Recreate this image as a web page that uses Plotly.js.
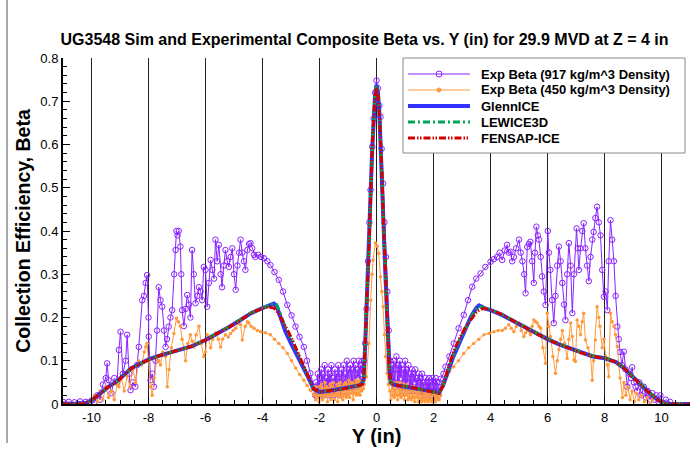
<!DOCTYPE html>
<html>
<head>
<meta charset="utf-8">
<script src="https://cdn.plot.ly/plotly-3.0.1.min.js"></script>
<style>html,body{margin:0;padding:0;background:#fff;}#chart{width:697px;height:451px;}</style>
</head>
<body>
<div id="chart"></div>
<script>
// ---------- Data ----------
// Exp Beta, 917 kg/m^3 density: left shoulder
var e917LeftY = [-11.0,-10.8,-10.6,-10.4,-10.2,-10.0,-9.9,-9.8,-9.7,-9.6,-9.5,-9.45,-9.4,-9.3,-9.2,-9.1,-9.04,-8.98,-8.9,-8.8,-8.75,-8.68,-8.63,-8.55,-8.46,-8.4,-8.34,-8.22,-8.16,-8.1,-8.05,-8.0,-7.99,-7.93,-7.87,-7.81,-7.75,-7.7,-7.64,-7.58,-7.52,-7.46,-7.4,-7.35,-7.29,-7.23,-7.17,-7.1,-7.05,-7.02,-6.98,-6.94,-6.88,-6.85,-6.82,-6.76,-6.7,-6.64,-6.58,-6.53,-6.47,-6.41,-6.35,-6.29,-6.23,-6.17,-6.12,-6.06,-6.0,-5.94,-5.88,-5.82,-5.76,-5.7,-5.65,-5.59,-5.53,-5.47,-5.42,-5.36,-5.3,-5.24,-5.18,-5.12,-5.06,-5.0,-4.94,-4.88,-4.82,-4.77,-4.71,-4.65,-4.6,-4.53,-4.47,-4.42,-4.36,-4.3,-4.25,-4.15,-4.05,-3.95,-3.83,-3.72,-3.58,-3.43,-3.28,-3.13,-2.98,-2.84,-2.7,-2.55,-2.44,-2.32,-2.2,-2.15];
var e917LeftBeta = [0.005,0.005,0.004,0.006,0.005,0.008,0.003,0.02,0.01,0.045,0.06,0.094,0.055,0.025,0.06,0.05,0.125,0.167,0.07,0.10,0.16,0.07,0.032,0.05,0.04,0.09,0.132,0.24,0.25,0.28,0.298,0.2,0.156,0.055,0.07,0.04,0.10,0.17,0.27,0.24,0.225,0.17,0.132,0.15,0.179,0.20,0.217,0.30,0.356,0.40,0.39,0.40,0.364,0.3,0.217,0.18,0.22,0.252,0.23,0.20,0.356,0.3,0.233,0.25,0.27,0.26,0.24,0.317,0.31,0.225,0.28,0.333,0.31,0.29,0.38,0.33,0.368,0.3,0.27,0.32,0.356,0.33,0.317,0.34,0.36,0.3,0.264,0.32,0.35,0.38,0.35,0.33,0.31,0.356,0.37,0.372,0.36,0.345,0.34,0.345,0.34,0.337,0.33,0.321,0.305,0.287,0.26,0.229,0.205,0.179,0.155,0.132,0.10,0.071,0.04,0.02];
// left valley
var e917ValLY = [-2.12,-2.09,-2.06,-2.03,-2.0,-1.97,-1.94,-1.91,-1.88,-1.85,-1.82,-1.79,-1.76,-1.73,-1.7,-1.67,-1.64,-1.61,-1.58,-1.55,-1.52,-1.49,-1.46,-1.43,-1.4,-1.37,-1.34,-1.31,-1.28,-1.25,-1.22,-1.19,-1.16,-1.13,-1.1,-1.07,-1.04,-1.01,-0.98,-0.95,-0.92,-0.89,-0.86,-0.83,-0.8,-0.77,-0.74,-0.71,-0.68,-0.65,-0.62,-0.59,-0.56,-0.53,-0.5,-0.47,-0.44];
var e917ValLBeta = [0.05,0.02,0.07,0.03,0.06,0.02,0.08,0.04,0.07,0.02,0.09,0.03,0.06,0.04,0.08,0.02,0.07,0.05,0.09,0.03,0.06,0.02,0.08,0.04,0.07,0.03,0.09,0.05,0.07,0.02,0.08,0.04,0.09,0.03,0.07,0.05,0.1,0.04,0.08,0.03,0.09,0.05,0.08,0.04,0.1,0.05,0.09,0.04,0.08,0.06,0.1,0.05,0.09,0.07,0.1,0.08,0.1];
// central peak
var e917PeakY = [-0.4,-0.35,-0.3,-0.25,-0.21,-0.15,-0.1,-0.05,0.0,0.05,0.1,0.14,0.18,0.23,0.28,0.33,0.38,0.43,0.48,0.52];
var e917PeakBeta = [0.14,0.22,0.33,0.42,0.495,0.595,0.66,0.72,0.748,0.73,0.69,0.664,0.59,0.51,0.42,0.34,0.26,0.17,0.10,0.06];
// right valley
var e917ValRY = [0.55,0.58,0.61,0.64,0.67,0.7,0.73,0.76,0.79,0.82,0.85,0.88,0.91,0.94,0.97,1.0,1.03,1.06,1.09,1.12,1.15,1.18,1.21,1.24,1.27,1.3,1.33,1.36,1.39,1.42,1.45,1.48,1.51,1.54,1.57,1.6,1.63,1.66,1.69,1.72,1.75,1.78,1.81,1.84,1.87,1.9,1.93,1.96,1.99,2.02,2.05,2.08,2.11,2.14,2.17,2.2,2.25];
var e917ValRBeta = [0.09,0.05,0.1,0.04,0.08,0.11,0.05,0.09,0.04,0.1,0.06,0.09,0.03,0.08,0.05,0.1,0.04,0.08,0.05,0.09,0.03,0.07,0.04,0.08,0.03,0.07,0.05,0.08,0.03,0.06,0.04,0.07,0.03,0.06,0.02,0.07,0.03,0.05,0.02,0.06,0.03,0.05,0.02,0.06,0.03,0.05,0.02,0.06,0.03,0.05,0.02,0.06,0.03,0.05,0.02,0.05,0.058];
// right shoulder
var e917RightY = [2.35,2.42,2.56,2.71,2.88,3.06,3.21,3.36,3.5,3.65,3.82,4.0,4.12,4.23,4.32,4.41,4.5,4.58,4.64,4.7,4.76,4.82,4.9,5.0,5.06,5.12,5.18,5.23,5.29,5.35,5.4,5.46,5.52,5.56,5.61,5.66,5.7,5.76,5.81,5.87,5.93,6.01,6.05,6.1,6.16,6.22,6.28,6.34,6.4,6.46,6.52,6.58,6.63,6.69,6.75,6.81,6.87,6.93,7.02,7.06,7.1,7.16,7.22,7.27,7.33,7.39,7.45,7.51,7.57,7.62,7.68,7.74,7.8,7.86,7.92,7.98,8.04,8.1,8.15,8.21,8.27,8.33,8.39,8.45,8.5,8.55,8.61,8.68,8.74,8.8,8.87,8.93,8.97,9.03,9.09,9.15,9.22,9.3,9.38,9.45,9.52,9.6,9.68,9.75,9.82,9.9,9.96,10.05,10.15,10.3];
var e917RightBeta = [0.07,0.086,0.11,0.14,0.175,0.206,0.24,0.271,0.29,0.302,0.317,0.329,0.335,0.34,0.35,0.333,0.355,0.368,0.35,0.352,0.33,0.34,0.36,0.38,0.35,0.33,0.3,0.256,0.363,0.37,0.375,0.33,0.28,0.35,0.41,0.39,0.38,0.34,0.295,0.26,0.229,0.40,0.35,0.31,0.24,0.187,0.25,0.32,0.364,0.33,0.28,0.23,0.194,0.30,0.372,0.32,0.21,0.30,0.406,0.36,0.31,0.36,0.40,0.418,0.36,0.32,0.284,0.34,0.38,0.398,0.43,0.456,0.42,0.39,0.31,0.248,0.26,0.217,0.33,0.425,0.38,0.33,0.25,0.179,0.15,0.12,0.09,0.121,0.08,0.04,0.07,0.06,0.085,0.05,0.04,0.03,0.05,0.02,0.04,0.015,0.03,0.01,0.025,0.01,0.02,0.005,0.02,0.003,0.01,0.005];

// Exp Beta, 450 kg/m^3 density
var e450LeftY = [-10.3,-10.1,-10.0,-9.9,-9.8,-9.7,-9.6,-9.5,-9.4,-9.3,-9.2,-9.1,-9.04,-8.95,-8.85,-8.75,-8.65,-8.55,-8.45,-8.35,-8.25,-8.15,-8.1,-8.05,-8.0,-7.93,-7.87,-7.8,-7.7,-7.64,-7.58,-7.5,-7.4,-7.34,-7.28,-7.2,-7.11,-7.02,-6.95,-6.88,-6.82,-6.76,-6.7,-6.62,-6.53,-6.47,-6.41,-6.33,-6.23,-6.15,-6.06,-6.0,-5.94,-5.88,-5.82,-5.75,-5.64,-5.55,-5.47,-5.4,-5.3,-5.2,-5.12,-5.03,-4.94,-4.83,-4.77,-4.71,-4.6,-4.53,-4.48,-4.4,-4.3,-4.18,-4.07,-3.9,-3.72,-3.58,-3.43,-3.28,-3.13,-2.98,-2.84,-2.7,-2.55,-2.44,-2.32,-2.2];
var e450LeftBeta = [0.0,0.005,0.01,0.02,0.005,0.03,0.01,0.04,0.015,0.03,0.01,0.045,0.04,0.06,0.03,0.065,0.04,0.08,0.05,0.1,0.09,0.12,0.132,0.14,0.1,0.04,0.02,0.06,0.11,0.1,0.09,0.12,0.11,0.04,0.08,0.13,0.163,0.198,0.19,0.18,0.15,0.13,0.10,0.14,0.16,0.145,0.132,0.16,0.18,0.14,0.11,0.12,0.16,0.15,0.13,0.15,0.164,0.15,0.132,0.15,0.16,0.155,0.163,0.17,0.175,0.187,0.183,0.148,0.18,0.19,0.187,0.18,0.175,0.17,0.167,0.165,0.16,0.15,0.14,0.13,0.117,0.1,0.083,0.068,0.055,0.043,0.032,0.02];
var e450ValLY = [-2.17,-2.14,-2.11,-2.08,-2.05,-2.02,-1.99,-1.96,-1.93,-1.9,-1.87,-1.84,-1.81,-1.78,-1.75,-1.72,-1.69,-1.66,-1.63,-1.6,-1.57,-1.54,-1.51,-1.48,-1.45,-1.42,-1.39,-1.36,-1.33,-1.3,-1.27,-1.24,-1.21,-1.18,-1.15,-1.12,-1.09,-1.06,-1.03,-1.0,-0.97,-0.94,-0.91,-0.88,-0.85,-0.82,-0.79,-0.76,-0.73,-0.7,-0.67,-0.64,-0.61,-0.58,-0.55,-0.52,-0.49,-0.46,-0.43];
var e450ValLBeta = [0.035,0.01,0.04,0.015,0.03,0.005,0.04,0.02,0.045,0.01,0.035,0.015,0.05,0.02,0.04,0.005,0.035,0.02,0.045,0.01,0.04,0.02,0.05,0.01,0.035,0.02,0.045,0.005,0.04,0.02,0.05,0.015,0.04,0.01,0.045,0.02,0.05,0.015,0.045,0.02,0.055,0.015,0.045,0.025,0.05,0.01,0.045,0.025,0.055,0.02,0.05,0.025,0.055,0.02,0.05,0.03,0.055,0.035,0.045];
var e450PeakY = [-0.35,-0.27,-0.21,-0.16,-0.12,-0.04,0.02,0.08,0.14,0.19,0.23,0.28,0.32,0.37,0.42,0.47];
var e450PeakBeta = [0.063,0.14,0.24,0.3,0.333,0.372,0.365,0.348,0.294,0.26,0.225,0.16,0.11,0.071,0.045,0.03];
var e450ValRY = [0.5,0.53,0.56,0.59,0.62,0.65,0.68,0.71,0.74,0.77,0.8,0.83,0.86,0.89,0.92,0.95,0.98,1.01,1.04,1.07,1.1,1.13,1.16,1.19,1.22,1.25,1.28,1.31,1.34,1.37,1.4,1.43,1.46,1.49,1.52,1.55,1.58,1.61,1.64,1.67,1.7,1.73,1.76,1.79,1.82,1.85,1.88,1.91,1.94,1.97,2.0,2.03,2.06,2.09,2.12,2.15,2.2,2.25];
var e450ValRBeta = [0.01,0.045,0.02,0.05,0.015,0.045,0.02,0.05,0.01,0.045,0.02,0.05,0.015,0.04,0.02,0.045,0.01,0.04,0.02,0.045,0.01,0.04,0.015,0.04,0.01,0.035,0.015,0.04,0.005,0.035,0.015,0.035,0.005,0.03,0.01,0.035,0.005,0.03,0.01,0.03,0.005,0.025,0.01,0.03,0.005,0.025,0.01,0.03,0.005,0.025,0.01,0.025,0.005,0.02,0.01,0.025,0.01,0.02];
var e450RightY = [2.33,2.42,2.56,2.71,2.88,3.06,3.23,3.41,3.59,3.77,3.95,4.12,4.27,4.41,4.52,4.64,4.73,4.82,4.91,5.0,5.08,5.17,5.23,5.29,5.35,5.4,5.46,5.52,5.58,5.64,5.7,5.76,5.84,5.93,5.99,6.05,6.1,6.19,6.28,6.34,6.4,6.46,6.52,6.6,6.69,6.75,6.81,6.87,6.93,6.98,7.04,7.1,7.16,7.22,7.27,7.33,7.42,7.51,7.57,7.62,7.68,7.74,7.8,7.84,7.92,7.98,8.04,8.1,8.15,8.21,8.27,8.33,8.39,8.45,8.5,8.55,8.63,8.68,8.75,8.82,8.9,8.97,9.05,9.12,9.2,9.3,9.4,9.5,9.6,9.7];
var e450RightBeta = [0.04,0.063,0.075,0.086,0.1,0.117,0.13,0.14,0.15,0.16,0.163,0.167,0.17,0.17,0.175,0.183,0.175,0.167,0.18,0.187,0.17,0.156,0.165,0.175,0.168,0.16,0.18,0.194,0.19,0.187,0.18,0.175,0.13,0.094,0.21,0.18,0.156,0.11,0.071,0.1,0.126,0.15,0.17,0.14,0.105,0.15,0.187,0.156,0.102,0.098,0.194,0.18,0.16,0.19,0.21,0.148,0.13,0.11,0.055,0.1,0.148,0.225,0.2,0.18,0.13,0.15,0.11,0.09,0.063,0.21,0.19,0.18,0.16,0.133,0.09,0.06,0.015,0.05,0.02,0.04,0.01,0.03,0.005,0.025,0.01,0.02,0.005,0.015,0.0,0.01];

// Simulations (shared Y stations)
var simY = [-11,-10.3,-10.0,-9.7,-9.4,-9.1,-8.8,-8.6,-8.3,-8.0,-7.7,-7.3,-7.0,-6.5,-6.0,-5.5,-5.2,-4.8,-4.4,-4.0,-3.8,-3.6,-3.5,-3.4,-3.2,-3.0,-2.8,-2.6,-2.4,-2.2,-2.0,-1.7,-1.4,-1.1,-0.8,-0.6,-0.5,-0.45,-0.4,-0.35,-0.3,-0.25,-0.2,-0.15,-0.1,-0.05,0,0.05,0.1,0.15,0.2,0.25,0.3,0.35,0.4,0.45,0.5,0.6,0.8,1.1,1.4,1.7,2.0,2.2,2.35,2.5,2.7,2.9,3.1,3.3,3.5,3.6,3.7,3.8,4.0,4.4,4.8,5.2,5.6,6.0,6.4,6.8,7.2,7.6,8.0,8.4,8.7,9.0,9.3,9.6,9.9,10.1,10.3,11];
var glennBeta = [0,0,0.008,0.024,0.04,0.053,0.07,0.083,0.093,0.103,0.11,0.118,0.123,0.133,0.148,0.165,0.177,0.193,0.21,0.222,0.226,0.232,0.226,0.205,0.168,0.14,0.115,0.09,0.062,0.034,0.028,0.03,0.033,0.036,0.04,0.043,0.048,0.06,0.13,0.21,0.3,0.39,0.5,0.59,0.66,0.715,0.738,0.72,0.675,0.6,0.52,0.41,0.32,0.23,0.15,0.08,0.05,0.045,0.042,0.04,0.036,0.032,0.028,0.026,0.045,0.075,0.11,0.14,0.17,0.2,0.222,0.228,0.225,0.221,0.217,0.206,0.192,0.178,0.163,0.15,0.138,0.128,0.118,0.11,0.106,0.097,0.082,0.062,0.042,0.024,0.008,0.002,0,0];
var lewiceBeta = [0,0,0.008,0.025,0.04,0.052,0.07,0.083,0.093,0.102,0.11,0.118,0.123,0.133,0.149,0.166,0.178,0.194,0.211,0.222,0.227,0.233,0.23,0.212,0.178,0.152,0.122,0.093,0.063,0.034,0.028,0.03,0.033,0.036,0.04,0.043,0.047,0.06,0.13,0.21,0.3,0.39,0.5,0.59,0.66,0.715,0.735,0.72,0.675,0.6,0.52,0.41,0.32,0.23,0.15,0.08,0.05,0.045,0.042,0.04,0.036,0.032,0.028,0.025,0.046,0.078,0.115,0.146,0.174,0.198,0.219,0.226,0.223,0.221,0.218,0.207,0.193,0.179,0.164,0.151,0.139,0.129,0.119,0.111,0.107,0.098,0.083,0.063,0.043,0.025,0.009,0.002,0,0];
var fensapBeta = [0,0,0.008,0.025,0.04,0.052,0.07,0.083,0.093,0.102,0.11,0.118,0.123,0.133,0.148,0.165,0.177,0.193,0.21,0.221,0.225,0.222,0.215,0.205,0.18,0.155,0.125,0.095,0.065,0.035,0.028,0.03,0.033,0.036,0.04,0.043,0.045,0.06,0.13,0.21,0.3,0.39,0.5,0.59,0.66,0.712,0.732,0.718,0.672,0.6,0.52,0.41,0.32,0.23,0.15,0.08,0.05,0.045,0.042,0.04,0.036,0.032,0.028,0.025,0.045,0.08,0.12,0.15,0.175,0.195,0.212,0.217,0.22,0.221,0.218,0.207,0.192,0.178,0.163,0.15,0.138,0.128,0.118,0.11,0.106,0.097,0.082,0.062,0.042,0.024,0.008,0.002,0,0];

var xTickVals = [-10,-8,-6,-4,-2,0,2,4,6,8,10];
var xTickText = ['-10','-8','-6','-4','-2','0','2','4','6','8','10'];
var seriesNames = ['Exp Beta (917 kg/m^3 Density)','Exp Beta (450 kg/m^3 Density)','GlennICE','LEWICE3D','FENSAP-ICE'];

var exp917Y = [].concat(e917LeftY, e917ValLY, e917PeakY, e917ValRY, e917RightY);
var exp917Beta = [].concat(e917LeftBeta, e917ValLBeta, e917PeakBeta, e917ValRBeta, e917RightBeta);
var exp450Y = [].concat(e450LeftY, e450ValLY, e450PeakY, e450ValRY, e450RightY);
var exp450Beta = [].concat(e450LeftBeta, e450ValLBeta, e450PeakBeta, e450ValRBeta, e450RightBeta);

// ---------- Styles ----------
var FONT = 'Liberation Sans, Arial, Helvetica, sans-serif';
var styles = [
  {line: {color: '#8b22ff', width: 1}, marker: {symbol: 'circle-open', size: 5.5, color: '#8b22ff', line: {width: 1}}, mode: 'lines+markers'},
  {line: {color: '#ff9a3c', width: 1}, marker: {symbol: 'circle', size: 3.5, color: '#ff9a3c'}, mode: 'lines+markers'},
  {line: {color: '#3333ff', width: 4}, mode: 'lines'},
  {line: {color: '#00a651', width: 3, dash: '7px,3px,2px,3px'}, mode: 'lines'},
  {line: {color: '#d40000', width: 3, dash: '7px,2px,1.5px,1.5px,1.5px,2px'}, mode: 'lines'}
];
var xs = [exp917Y, exp450Y, simY, simY, simY];
var ys = [exp917Beta, exp450Beta, glennBeta, lewiceBeta, fensapBeta];

var traces = xs.map(function (x, i) {
  var t = {x: x, y: ys[i], type: 'scatter', mode: styles[i].mode, name: seriesNames[i], line: styles[i].line, showlegend: false};
  if (styles[i].marker) t.marker = styles[i].marker;
  return t;
});

// ---------- Legend drawn in paper space (placement only) ----------
var PL = 63, PW = 627, PB = 404, PH = 346;
function px2x(p) { return (p - PL) / PW; }
function py2y(p) { return (PB - p) / PH; }
var shapes = [
  {type: 'line', xref: 'paper', yref: 'paper', x0: px2x(7), x1: px2x(7), y0: py2y(443), y1: py2y(0),
   line: {color: '#555', width: 1}},
  {type: 'rect', xref: 'paper', yref: 'paper', x0: px2x(403), x1: px2x(685), y0: py2y(153), y1: py2y(58),
   line: {color: '#888', width: 1}, fillcolor: '#ffffff', layer: 'above'}
];
var annotations = [];
var rowY = [74, 90, 106, 122, 138];
seriesNames.forEach(function (nm, i) {
  var yy = py2y(rowY[i]);
  var ln = {type: 'line', xref: 'paper', yref: 'paper', x0: px2x(408), x1: px2x(470), y0: yy, y1: yy,
            line: {color: styles[i].line.color, width: styles[i].line.width}, layer: 'above'};
  if (styles[i].line.dash) ln.line.dash = styles[i].line.dash;
  shapes.push(ln);
  if (styles[i].marker) {
    var r = i === 0 ? 3 : 2;
    shapes.push({type: 'circle', xref: 'paper', yref: 'paper', xsizemode: 'pixel', ysizemode: 'pixel',
      xanchor: px2x(439), yanchor: yy, x0: -r, x1: r, y0: -r, y1: r, layer: 'above',
      line: {color: styles[i].line.color, width: 1}, fillcolor: i === 0 ? 'rgba(0,0,0,0)' : styles[i].line.color});
  }
  annotations.push({xref: 'paper', yref: 'paper', x: px2x(479), y: yy, xanchor: 'left', yanchor: 'middle',
    text: '<b>' + nm + '</b>', showarrow: false, font: {size: 13, family: FONT, color: '#000'}});
});

var layout = {
  width: 697, height: 451,
  margin: {l: 63, r: 7, t: 58, b: 47},
  paper_bgcolor: '#ffffff', plot_bgcolor: '#ffffff',
  font: {family: FONT, color: '#000'},
  showlegend: false,
  title: {text: '<b>UG3548 Sim and Experimental Composite Beta vs. Y (in) for 29.9 MVD at Z = 4 in</b>',
          font: {size: 16, family: FONT, color: '#000'}, x: 0.523, xanchor: 'center', xref: 'container',
          y: 0.912, yanchor: 'middle', yref: 'container'},
  xaxis: {
    range: [-11, 11], tickmode: 'array', tickvals: xTickVals, ticktext: xTickText,
    ticks: 'inside', ticklen: 7, tickwidth: 1, tickcolor: '#000',
    minor: {dtick: 0.5, tick0: 0, ticks: 'inside', ticklen: 4, tickcolor: '#000', showgrid: false},
    showgrid: true, gridcolor: '#222', gridwidth: 1, zeroline: false,
    showline: true, linecolor: '#000', linewidth: 2,
    tickfont: {size: 13, family: FONT},
    title: {text: '<b>Y (in)</b>', font: {size: 20, family: FONT}, standoff: 0}
  },
  yaxis: {
    range: [0, 0.8], dtick: 0.1, tick0: 0,
    ticks: 'inside', ticklen: 7, tickwidth: 1, tickcolor: '#000',
    minor: {dtick: 0.02, ticks: 'inside', ticklen: 4, tickcolor: '#000', showgrid: false},
    showgrid: false, zeroline: false,
    showline: true, linecolor: '#000', linewidth: 2,
    tickfont: {size: 13, family: FONT},
    title: {text: '<b>Collection Efficiency, Beta</b>', font: {size: 19.5, family: FONT}, standoff: 4}
  },
  shapes: shapes,
  annotations: annotations
};

Plotly.newPlot('chart', traces, layout, {displayModeBar: false, staticPlot: true});
</script>
</body>
</html>
